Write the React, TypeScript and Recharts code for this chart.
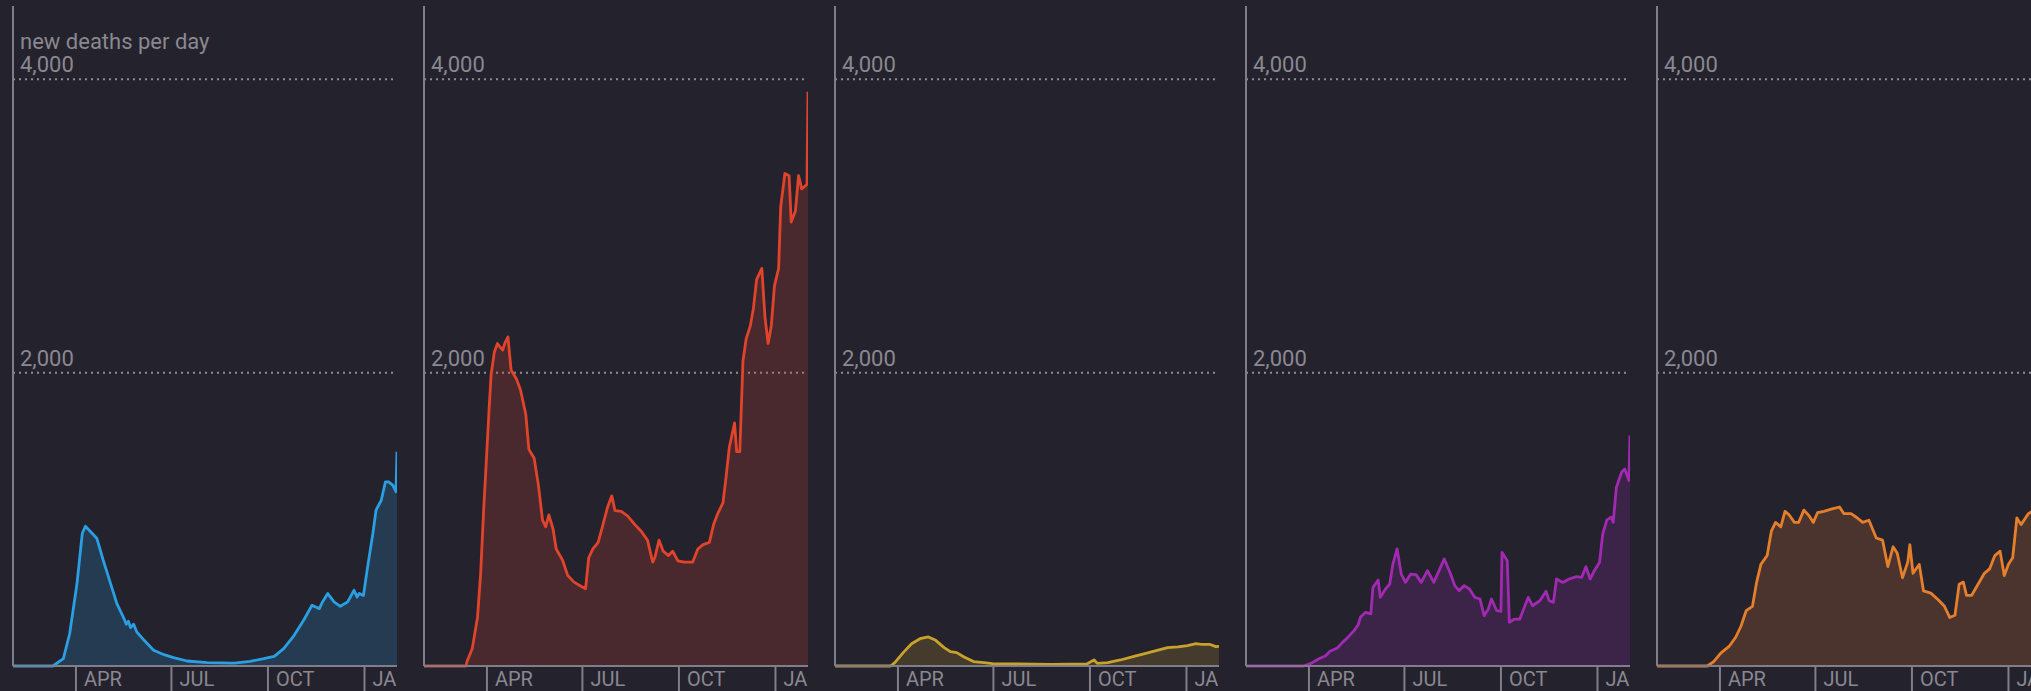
import React from 'react';
import { AreaChart, Area, XAxis, YAxis, CartesianGrid } from 'recharts';

// x = days since 1 Feb 2020, y = new deaths per day (7-day average)
const monthTicks = [60, 151, 243, 335];
const monthLabels = ['APR', 'JUL', 'OCT', 'JA'];
const valueTicks = [2000, 4000];

const blueDays = [0, 38, 48, 54, 61, 66, 69, 74, 80, 86, 93, 99, 104, 106, 108, 110, 112, 115, 118, 125, 134, 144, 153, 166, 185, 211, 226, 239, 249, 258, 268, 277, 285, 289, 292, 295, 300, 306, 312, 319, 325, 328, 330, 334, 338, 343, 346, 351, 355, 358, 362, 365, 366];
const blueDeaths = [0, 0, 50, 220, 562, 903, 953, 915, 869, 721, 562, 425, 350, 320, 285, 305, 262, 285, 232, 175, 107, 77, 57, 34, 23, 20, 32, 50, 66, 118, 209, 312, 414, 400, 391, 437, 494, 437, 407, 437, 516, 470, 495, 480, 676, 903, 1062, 1130, 1256, 1256, 1233, 1188, 1460];

const redDays = [0, 40, 41, 46, 51, 54, 57, 60, 62, 64, 67, 70, 72, 75, 77, 80, 83, 88, 92, 97, 100, 103, 105, 109, 113, 116, 119, 123, 126, 132, 137, 143, 150, 154, 157, 161, 166, 170, 175, 179, 182, 188, 194, 201, 207, 213, 218, 220, 224, 228, 233, 237, 242, 248, 256, 261, 266, 272, 276, 280, 285, 288, 291, 296, 298, 301, 304, 307, 311, 314, 317, 322, 325, 328, 331, 334, 338, 340, 344, 348, 350, 354, 357, 360, 365, 366];
const redDeaths = [0, 0, 30, 120, 331, 632, 1084, 1476, 1747, 1988, 2139, 2199, 2180, 2154, 2200, 2244, 2018, 1958, 1882, 1717, 1476, 1440, 1416, 1235, 994, 949, 1030, 934, 798, 723, 617, 572, 542, 527, 738, 798, 843, 949, 1084, 1160, 1060, 1054, 1024, 964, 919, 858, 708, 738, 858, 783, 753, 783, 717, 708, 708, 798, 828, 843, 964, 1039, 1114, 1295, 1491, 1657, 1461, 1461, 2078, 2229, 2319, 2440, 2635, 2711, 2379, 2199, 2319, 2590, 2711, 3132, 3358, 3343, 3027, 3102, 3343, 3253, 3283, 3916];

const yellowDays = [0, 53, 57, 65, 73, 81, 89, 96, 104, 110, 116, 123, 132, 142, 150, 174, 206, 240, 244, 247, 250, 260, 272, 285, 298, 307, 317, 327, 336, 344, 349, 357, 363, 366];
const yellowDeaths = [0, 0, 23, 91, 152, 186, 198, 175, 125, 98, 91, 61, 30, 23, 16, 14, 11, 14, 30, 41, 18, 23, 41, 66, 89, 107, 125, 130, 139, 152, 148, 148, 132, 134];

const purpleDays = [0, 55, 62, 69, 76, 80, 87, 92, 97, 103, 107, 109, 114, 119, 121, 126, 128, 133, 137, 140, 144, 148, 152, 157, 162, 167, 173, 179, 184, 189, 195, 199, 203, 208, 213, 218, 223, 227, 231, 234, 239, 243, 244, 249, 251, 256, 261, 264, 269, 273, 280, 286, 289, 293, 296, 302, 308, 315, 320, 324, 328, 332, 337, 340, 344, 348, 350, 353, 358, 361, 365, 366];
const purpleDeaths = [0, 0, 18, 48, 70, 100, 123, 161, 195, 241, 282, 332, 366, 355, 536, 586, 468, 525, 559, 695, 798, 627, 570, 627, 623, 570, 650, 570, 650, 730, 627, 548, 514, 548, 525, 468, 457, 343, 389, 457, 377, 373, 775, 718, 298, 320, 320, 377, 468, 411, 445, 509, 445, 434, 593, 570, 593, 609, 605, 677, 593, 650, 707, 900, 996, 1014, 980, 1218, 1321, 1343, 1264, 1571];

const orangeDays = [0, 48, 54, 61, 69, 75, 80, 85, 91, 95, 99, 105, 109, 113, 118, 122, 126, 131, 135, 140, 145, 149, 153, 159, 166, 174, 178, 185, 191, 196, 202, 209, 215, 220, 225, 229, 234, 239, 241, 244, 250, 254, 261, 268, 274, 279, 284, 288, 292, 295, 300, 306, 312, 317, 322, 327, 331, 335, 339, 343, 347, 354, 357, 362, 366];
const orangeDeaths = [0, 0, 30, 90, 136, 196, 271, 377, 407, 572, 693, 753, 919, 979, 949, 1054, 1030, 979, 979, 1063, 1024, 979, 1045, 1054, 1069, 1084, 1039, 1039, 1009, 979, 994, 873, 858, 678, 813, 768, 602, 708, 828, 632, 693, 512, 497, 452, 407, 331, 346, 557, 572, 482, 482, 557, 632, 662, 753, 783, 617, 693, 738, 1009, 964, 1039, 1052, 1080, 1100];

const series = [
  { days: blueDays, deaths: blueDeaths, color: '#2a9fe2' },
  { days: redDays, deaths: redDeaths, color: '#e2442b' },
  { days: yellowDays, deaths: yellowDeaths, color: '#c9a22a' },
  { days: purpleDays, deaths: purpleDeaths, color: '#a22ab3' },
  { days: orangeDays, deaths: orangeDeaths, color: '#e67f2b' },
];

const BG = '#24222d';
const AXIS = '#807e88';
const TEXT = '#8a8890';
const FONT = 'Roboto, sans-serif';
const PLOT_LEFT = 13;
const PLOT_W = 384;
const STEP = 410.9;

const fmt = (v: number) => v.toLocaleString('en-US');

const YTick = (props: any) => {
  const { y, payload, showTitle } = props;
  return (
    <g>
      {showTitle && payload.value === 4000 && (
        <text x={PLOT_LEFT + 7} y={y - 30} fill={TEXT} fontSize={22} fontFamily={FONT}>
          new deaths per day
        </text>
      )}
      <text x={PLOT_LEFT + 7} y={y - 7} fill={TEXT} fontSize={22} fontFamily={FONT}>
        {fmt(payload.value)}
      </text>
    </g>
  );
};

const XTick = (props: any) => {
  const { x, y, payload } = props;
  const label = monthLabels[monthTicks.indexOf(payload.value)];
  return (
    <g>
      <line x1={x} x2={x} y1={y} y2={y + 30} stroke={AXIS} strokeWidth={2} />
      <text x={x + 8} y={y + 20} fill={TEXT} fontSize={20} fontFamily={FONT}>
        {label}
      </text>
    </g>
  );
};

const Panel: React.FC<{ index: number }> = ({ index }) => {
  const s = series[index];
  const data = s.days.map((d, i) => ({ day: d, deaths: s.deaths[i] }));
  return (
    <div
      style={{
        position: 'absolute',
        left: index * STEP,
        top: 0,
        width: PLOT_LEFT + PLOT_W,
        height: 691,
        overflow: 'hidden',
      }}
    >
      <AreaChart
        width={PLOT_LEFT + PLOT_W}
        height={691}
        data={data}
        margin={{ top: 6, right: 0, left: 0, bottom: 0 }}
      >
        <CartesianGrid
          vertical={false}
          stroke="#8e8e92"
          strokeWidth={2}
          strokeDasharray="2 4"
          horizontalValues={valueTicks}
        />
        <XAxis
          dataKey="day"
          type="number"
          domain={[0, 366]}
          ticks={monthTicks}
          interval={0}
          height={25}
          tickSize={0}
          tickMargin={0}
          tickLine={false}
          axisLine={{ stroke: AXIS, strokeWidth: 2 }}
          tick={(p: any) => <XTick {...p} />}
        />
        <YAxis
          type="number"
          domain={[0, 4500]}
          ticks={valueTicks}
          interval={0}
          width={PLOT_LEFT}
          tickSize={0}
          tickMargin={0}
          tickLine={false}
          axisLine={{ stroke: AXIS, strokeWidth: 2 }}
          tick={(p: any) => <YTick {...p} showTitle={index === 0} />}
        />
        <Area
          type="linear"
          dataKey="deaths"
          stroke={s.color}
          strokeWidth={2.8}
          strokeLinejoin="round"
          fill={s.color}
          fillOpacity={0.2}
          isAnimationActive={false}
          dot={false}
          activeDot={false}
        />
      </AreaChart>
    </div>
  );
}

export default function App() {
  return (
    <div
      style={{
        position: 'absolute',
        left: 0,
        top: 0,
        width: 2031,
        height: 691,
        overflow: 'hidden',
        background: BG,
      }}
    >
      {series.map((_, i) => (
        <Panel key={i} index={i} />
      ))}
    </div>
  );
}
